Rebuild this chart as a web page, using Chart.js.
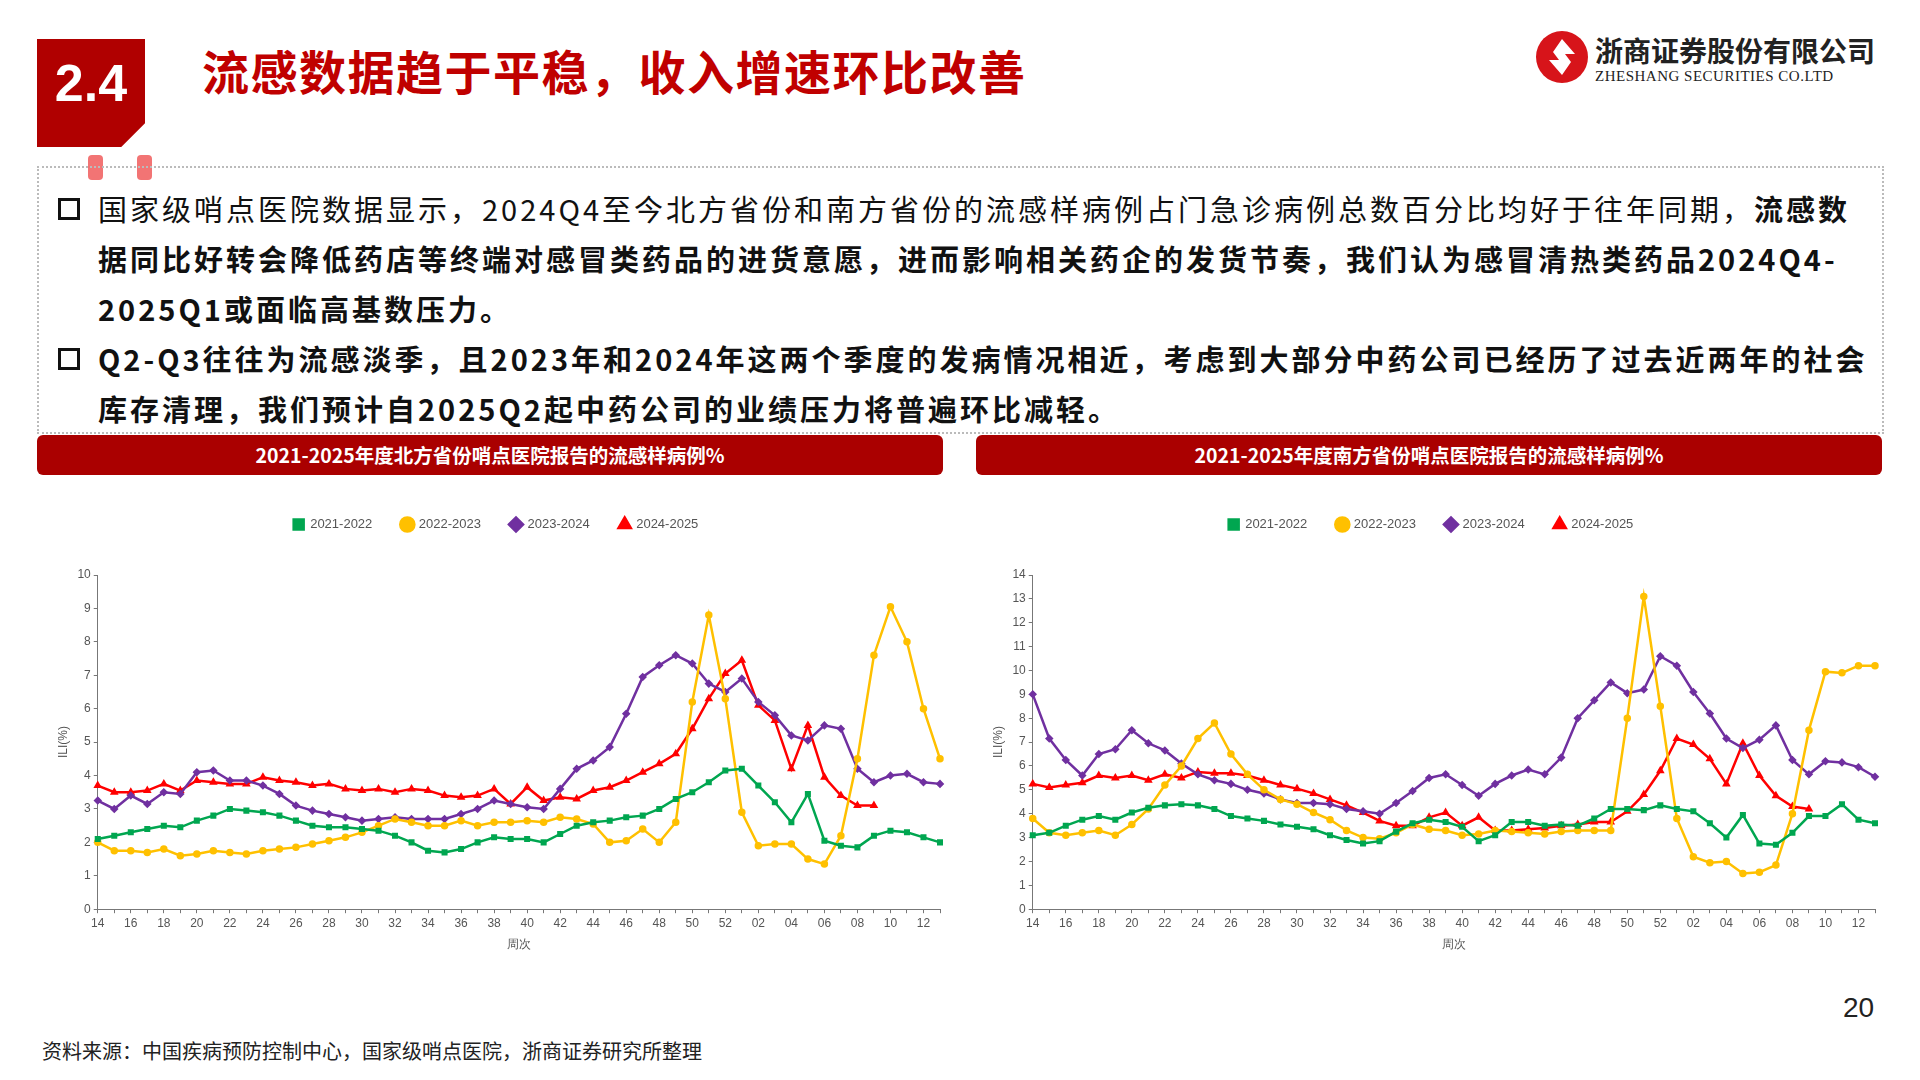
<!DOCTYPE html>
<html>
<head>
<meta charset="utf-8">
<script src="https://cdn.jsdelivr.net/npm/chart.js@4.4.0/dist/chart.umd.min.js"></script>
<style>
  body { margin: 0; width: 1920px; height: 1080px; background: #fff; font-family: "Noto Sans CJK SC", "Noto Sans", sans-serif; position: relative; overflow: hidden; }
  .num { position: absolute; left: 37px; top: 39px; width: 108px; height: 108px; background: #B00000;
         clip-path: polygon(0 0, 100% 0, 100% 78%, 78% 100%, 0 100%); color: #fff; font: bold 52px "Liberation Sans", Arial, sans-serif;
         line-height: 88px; text-align: center; }
  .pin { position: absolute; top: 155px; width: 15px; height: 25px; border-radius: 4px; background: #F27474; }
  .title { position: absolute; left: 202px; top: 35px; font-size: 47px; font-weight: bold; color: #C00000; letter-spacing: 1.5px; }
  .logo { position: absolute; left: 1535px; top: 30px; }
  .logo .cn { position: absolute; left: 60px; top: 0; font-size: 28px; font-weight: bold; color: #222; white-space: nowrap; font-family: "Noto Sans CJK SC"; }
  .logo .en { position: absolute; left: 60px; top: 38px; font: 15px "Liberation Serif", serif; color: #222; white-space: nowrap; letter-spacing: 0.5px; }
  .box { position: absolute; left: 37px; top: 166px; width: 1843px; height: 264px; border: 2px dotted #bbb; }
  .txt { position: absolute; left: 55px; top: 183px; width: 1820px; font-size: 29px; line-height: 50px; color: #111; letter-spacing: 3px; white-space: nowrap; }
  .txt p { margin: 0; padding-left: 43px; position: relative; }
  .txt p::before { content: ""; position: absolute; left: 3px; top: 15px; width: 16px; height: 16px; border: 3px solid #111; }
  .bar { position: absolute; top: 435px; height: 40px; width: 906px; background: #AA0000; border-radius: 6px; color: #fff;
         font-size: 19.5px; font-weight: bold; text-align: center; line-height: 40px; }
  .chart { position: absolute; top: 488px; width: 920px; height: 468px; }
  .src { position: absolute; left: 42px; top: 1036px; font-size: 20px; color: #222; }
  .page { position: absolute; left: 1843px; top: 992px; font: 28px "Liberation Sans", Arial, sans-serif; color: #222; }
</style>
</head>
<body>
<div class="num">2.4</div>
<div class="pin" style="left:88px"></div>
<div class="pin" style="left:137px"></div>
<div class="title">流感数据趋于平稳，收入增速环比改善</div>
<div class="logo">
  <svg width="54" height="54" viewBox="0 0 54 54"><circle cx="27" cy="27" r="26" fill="#D7141A"/>
    <path d="M27 9 L40 24 L30 24 L36 32 L27 45 L14 30 L24 30 L18 22 Z" fill="#fff"/></svg>
  <div class="cn">浙商证券股份有限公司</div>
  <div class="en">ZHESHANG SECURITIES CO.LTD</div>
</div>
<div class="box"></div>
<div class="txt">
  <p>国家级哨点医院数据显示，2024Q4至今北方省份和南方省份的流感样病例占门急诊病例总数百分比均好于往年同期，<b>流感数<br>据同比好转会降低药店等终端对感冒类药品的进货意愿，进而影响相关药企的发货节奏，我们认为感冒清热类药品2024Q4-<br>2025Q1或面临高基数压力。</b></p>
  <p><b>Q2-Q3往往为流感淡季，且2023年和2024年这两个季度的发病情况相近，考虑到大部分中药公司已经历了过去近两年的社会<br>库存清理，我们预计自2025Q2起中药公司的业绩压力将普遍环比减轻。</b></p>
</div>
<div class="bar" style="left:37px">2021-2025年度北方省份哨点医院报告的流感样病例%</div>
<div class="bar" style="left:976px">2021-2025年度南方省份哨点医院报告的流感样病例%</div>
<div class="chart" style="left:30px"><canvas id="north"></canvas></div>
<div class="chart" style="left:965px"><canvas id="south"></canvas></div>
<div class="src">资料来源：中国疾病预防控制中心，国家级哨点医院，浙商证券研究所整理</div>
<div class="page">20</div>
<script>
const weeks = ["14","15","16","17","18","19","20","21","22","23","24","25","26","27","28","29","30","31","32","33","34","35","36","37","38","39","40","41","42","43","44","45","46","47","48","49","50","51","52","01","02","03","04","05","06","07","08","09","10","11","12","13"];
const seasons = ["2021-2022", "2022-2023", "2023-2024", "2024-2025"];

const north2122 = [2.1,2.2,2.3,2.4,2.5,2.45,2.65,2.8,3.0,2.95,2.9,2.8,2.65,2.5,2.45,2.45,2.4,2.35,2.2,2.0,1.75,1.7,1.8,2.0,2.15,2.1,2.1,2.0,2.25,2.5,2.6,2.65,2.75,2.8,3.0,3.3,3.5,3.8,4.15,4.2,3.7,3.2,2.6,3.45,2.05,1.9,1.85,2.2,2.35,2.3,2.15,2.0];
const north2223 = [2.0,1.75,1.75,1.7,1.8,1.6,1.65,1.75,1.7,1.65,1.75,1.8,1.85,1.95,2.05,2.15,2.3,2.5,2.7,2.6,2.5,2.5,2.65,2.5,2.6,2.6,2.65,2.6,2.75,2.7,2.55,2.0,2.05,2.4,2.0,2.6,6.2,8.8,6.3,2.9,1.9,1.95,1.95,1.5,1.35,2.2,4.5,7.6,9.05,8.0,6.0,4.5];
const north2324 = [3.25,3.0,3.4,3.15,3.5,3.45,4.1,4.15,3.85,3.85,3.7,3.45,3.1,2.95,2.85,2.75,2.65,2.7,2.75,2.7,2.7,2.7,2.85,3.0,3.25,3.15,3.05,3.0,3.6,4.2,4.45,4.85,5.85,6.95,7.3,7.6,7.35,6.75,6.5,6.9,6.2,5.8,5.2,5.05,5.5,5.4,4.2,3.8,4.0,4.05,3.8,3.75];
const north2425 = [3.7,3.5,3.5,3.55,3.75,3.55,3.85,3.8,3.75,3.75,3.95,3.85,3.8,3.7,3.75,3.6,3.55,3.6,3.5,3.6,3.55,3.4,3.35,3.4,3.6,3.15,3.65,3.25,3.35,3.3,3.55,3.65,3.85,4.1,4.35,4.65,5.4,6.3,7.05,7.45,6.1,5.65,4.2,5.5,3.95,3.4,3.1,3.1,null,null,null,null];

const south2122 = [3.1,3.2,3.5,3.75,3.9,3.75,4.05,4.25,4.35,4.4,4.35,4.2,3.9,3.8,3.7,3.55,3.45,3.35,3.1,2.9,2.75,2.85,3.25,3.6,3.75,3.65,3.45,2.85,3.1,3.65,3.65,3.5,3.55,3.5,3.8,4.2,4.2,4.15,4.35,4.2,4.1,3.6,3.0,3.95,2.75,2.7,3.2,3.9,3.9,4.4,3.75,3.6];
const south2223 = [3.8,3.2,3.1,3.2,3.3,3.1,3.55,4.2,5.2,6.0,7.15,7.8,6.5,5.65,5.0,4.6,4.4,4.05,3.75,3.3,3.0,2.95,3.2,3.55,3.35,3.3,3.1,3.15,3.3,3.25,3.2,3.15,3.25,3.3,3.3,3.3,8.0,13.1,8.5,3.8,2.2,1.95,2.0,1.5,1.55,1.85,4.0,7.5,9.95,9.9,10.2,10.2];
const south2324 = [9.0,7.15,6.25,5.6,6.5,6.7,7.5,6.95,6.65,6.1,5.65,5.4,5.25,5.0,4.85,4.6,4.45,4.45,4.4,4.2,4.1,4.0,4.45,4.95,5.5,5.65,5.2,4.75,5.25,5.6,5.85,5.65,6.35,8.0,8.75,9.5,9.05,9.2,10.6,10.2,9.1,8.2,7.15,6.75,7.1,7.7,6.25,5.65,6.2,6.15,5.95,5.55];
const south2425 = [5.25,5.1,5.2,5.3,5.6,5.5,5.6,5.4,5.65,5.5,5.75,5.7,5.7,5.6,5.4,5.2,5.05,4.85,4.6,4.35,4.05,3.7,3.5,3.5,3.85,4.05,3.5,3.85,3.3,3.3,3.35,3.4,3.5,3.55,3.65,3.65,4.1,4.8,5.8,7.15,6.9,6.3,5.25,6.95,5.6,4.75,4.3,4.2,null,null,null,null];

const colors = ["#00A650", "#FFC000", "#7030A0", "#FF0000"];
const markers = ["rect", "circle", "rectRot", "triangle"];

// push the plot area further below the legend
const legendGap = { id: "legendGap", beforeInit(chart) {
  const fit = chart.legend.fit;
  chart.legend.fit = function () { fit.bind(chart.legend)(); this.height += 34; };
} };

function makeChart(id, series, yMax) {
  new Chart(document.getElementById(id), {
    type: "line",
    data: {
      labels: weeks,
      datasets: series.map((d, i) => ({
        label: seasons[i], data: d, borderColor: colors[i], backgroundColor: colors[i],
        borderWidth: 2.5, pointStyle: markers[i], pointRadius: 2.5, tension: 0
      }))
    },
    plugins: [legendGap],
    options: {
      responsive: true, maintainAspectRatio: false, animation: false,
      layout: { padding: { left: 22, right: 10, top: 0, bottom: 0 } },
      plugins: {
        legend: { position: "top", labels: { usePointStyle: true, boxWidth: 10, boxHeight: 10, padding: 30, color: "#555", font: { size: 13 } } },
        tooltip: { enabled: false }
      },
      scales: {
        x: {
          grid: { drawOnChartArea: false, tickLength: 4, color: "#777" },
          border: { color: "#777" },
          ticks: { autoSkip: false, maxRotation: 0, color: "#555", font: { size: 12 },
                   callback: (v, i) => i % 2 === 0 ? weeks[i] : "" },
          title: { display: true, text: "周次", color: "#555", font: { size: 12 } }
        },
        y: {
          min: 0, max: yMax,
          grid: { drawOnChartArea: false, tickLength: 4, color: "#777" },
          border: { color: "#777" },
          ticks: { stepSize: 1, color: "#555", font: { size: 12 } },
          title: { display: true, text: "ILI(%)", color: "#555", font: { size: 12 } }
        }
      }
    }
  });
}

makeChart("north", [north2122, north2223, north2324, north2425], 10);
makeChart("south", [south2122, south2223, south2324, south2425], 14);
</script>
</body>
</html>
